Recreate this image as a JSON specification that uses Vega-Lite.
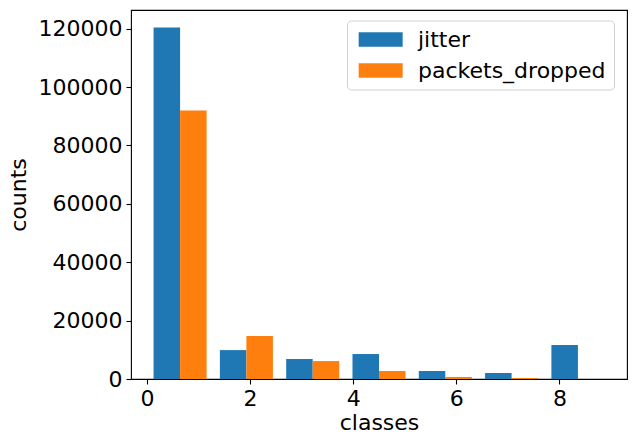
{
  "$schema": "https://vega.github.io/schema/vega-lite/v6.json",
  "width": 496,
  "height": 369,
  "autosize": {"type": "none"},
  "padding": {"left": 131, "top": 10, "right": 9, "bottom": 65},
  "background": "white",
  "config": {
    "view": {"stroke": "black", "strokeWidth": 1.1},
    "font": "DejaVu Sans",
    "axis": {
      "grid": false,
      "domain": false,
      "tickColor": "black",
      "tickWidth": 1.1,
      "tickSize": 5,
      "labelPadding": 4,
      "labelFontSize": 22,
      "labelColor": "black",
      "labelFont": "DejaVu Sans",
      "titleFontSize": 22,
      "titleFont": "DejaVu Sans",
      "titleFontWeight": "normal",
      "titleColor": "black"
    }
  },
  "data": {
    "values": [
      {"series": "jitter", "x0": 0.1286, "x1": 0.6429, "count": 120400},
      {"series": "jitter", "x0": 1.4143, "x1": 1.9286, "count": 9900},
      {"series": "jitter", "x0": 2.7, "x1": 3.2143, "count": 6850},
      {"series": "jitter", "x0": 3.9857, "x1": 4.5, "count": 8550},
      {"series": "jitter", "x0": 5.2714, "x1": 5.7857, "count": 2750},
      {"series": "jitter", "x0": 6.5571, "x1": 7.0714, "count": 2050},
      {"series": "jitter", "x0": 7.8429, "x1": 8.3571, "count": 11650},
      {"series": "packets_dropped", "x0": 0.6429, "x1": 1.1571, "count": 92000},
      {"series": "packets_dropped", "x0": 1.9286, "x1": 2.4429, "count": 14700},
      {"series": "packets_dropped", "x0": 3.2143, "x1": 3.7286, "count": 6150},
      {"series": "packets_dropped", "x0": 4.5, "x1": 5.0143, "count": 2750},
      {"series": "packets_dropped", "x0": 5.7857, "x1": 6.3, "count": 700},
      {"series": "packets_dropped", "x0": 7.0714, "x1": 7.5857, "count": 350},
      {"series": "packets_dropped", "x0": 8.3571, "x1": 8.8714, "count": 0}
    ]
  },
  "mark": {"type": "bar", "stroke": null},
  "encoding": {
    "x": {
      "field": "x0",
      "type": "quantitative",
      "scale": {"domain": [-0.309, 9.309], "nice": false, "zero": false},
      "axis": {"values": [0, 2, 4, 6, 8], "title": "classes", "titlePadding": 3, "format": "d"}
    },
    "x2": {"field": "x1"},
    "y": {
      "field": "count",
      "type": "quantitative",
      "stack": null,
      "scale": {"domain": [0, 126420], "nice": false},
      "axis": {"values": [0, 20000, 40000, 60000, 80000, 100000, 120000], "title": "counts", "titlePadding": 8, "format": "d"}
    },
    "y2": {"datum": 0},
    "color": {
      "field": "series",
      "type": "nominal",
      "scale": {"domain": ["jitter", "packets_dropped"], "range": ["#1f77b4", "#ff7f0e"]},
      "legend": {
        "title": null,
        "orient": "none",
        "legendX": 216,
        "legendY": 10.5,
        "fillColor": "rgba(255,255,255,0.8)",
        "strokeColor": "#d0d0d0",
        "cornerRadius": 4,
        "padding": 8,
        "symbolType": "M-1,-1H5V1H-1Z",
        "symbolSize": 215,
        "symbolStrokeWidth": 0,
        "symbolOpacity": 1,
        "labelFontSize": 22,
        "labelFont": "DejaVu Sans",
        "labelColor": "black",
        "labelOffset": 41,
        "labelLimit": 0,
        "rowPadding": 9
      }
    }
  }
}
